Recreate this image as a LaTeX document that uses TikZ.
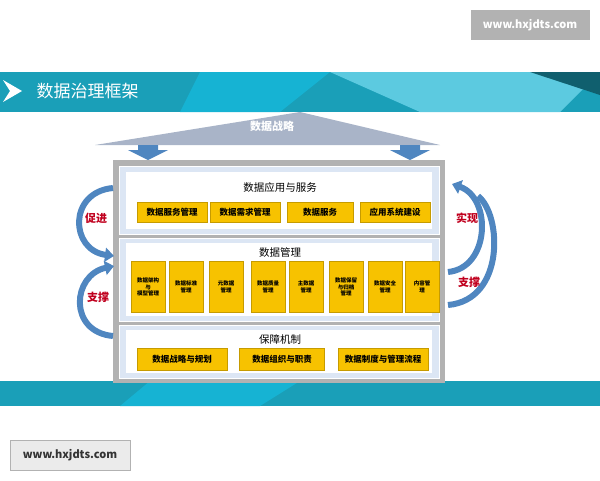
\documentclass[tikz,border=0pt]{standalone}
\usepackage{fontspec}
\setmainfont{Noto Sans CJK SC}
\usetikzlibrary{arrows.meta}
\definecolor{teal1}{HTML}{1A9FB8}
\definecolor{teal2}{HTML}{16B3D3}
\definecolor{roof}{HTML}{A9B4C8}
\definecolor{arrowblue}{HTML}{4F86C0}
\definecolor{panelblue}{HTML}{DCE6F4}
\definecolor{boxyellow}{HTML}{F7C200}
\definecolor{labelred}{HTML}{C0001E}
\begin{document}
\begin{tikzpicture}[x=1pt, y=-1pt, >=Stealth]

    \tikzset{%
    every panel/.style={draw=white, line width=1pt, fill=panelblue},
    inner panel/.style={fill=white},
    ybox/.style={fill=boxyellow, draw=boxyellow!80!black, line width=0.3pt,
        inner sep=1pt, align=center, font=\bfseries\fontsize{5.5}{6.5}\selectfont},
    curve arrow/.style={arrowblue, line width=6pt, -{Triangle[length=9pt,width=14pt]}},
    side label/.style={text=labelred, font=\bfseries\fontsize{11}{12}\selectfont},
    }

    \useasboundingbox (0,0) rectangle (600,480);

    % Watermarks
    \node [fill=black!30, text=white, minimum width=119pt, minimum height=30pt,
        font=\bfseries\fontsize{11}{12}\selectfont] (mark-top) at (530,25) {www.hxjdts.com};
    \node [fill=black!8, draw=black!30, text=black!80, minimum width=120pt,
        minimum height=30pt, font=\bfseries\fontsize{11}{12}\selectfont] (mark-bottom) at (70,455) {www.hxjdts.com};

    % Banners
    \fill [teal1] (0,72) rectangle (600,112);
    \fill [teal2] (200,72) -- (330,72) -- (280,112) -- (180,112) -- cycle;
    \fill [teal2!70!white] (330,72) -- (600,72) -- (560,112) -- (420,112) -- cycle;
    \fill [teal1!60!black] (530,72) -- (600,72) -- (600,95) -- cycle;
    \fill [teal1] (0,381) rectangle (600,406);
    \fill [teal2] (150,381) -- (300,381) -- (260,406) -- (120,406) -- cycle;
    \fill [white] (3,80) -- (22,91) -- (3,102) -- (10,91) -- cycle;
    \node [anchor=west, text=white, font=\fontsize{17}{19}\selectfont] (title) at (33,91) {数据治理框架};

    % Roof
    \fill [roof] (300,112) -- (440,145) -- (95,145) -- cycle;
    \node [text=white, font=\bfseries\fontsize{11}{12}\selectfont] (strategy) at (272,126) {数据战略};
    \foreach \x in {148,410}
    \fill [arrowblue] (\x-10,145) -- (\x+10,145) -- (\x+10,150) -- (\x+20,150)
        -- (\x,160) -- (\x-20,150) -- (\x-10,150) -- cycle;

    % Frame and panels
    \fill [black!30] (113,160) rectangle (445,383);
    \draw [every panel] (119,166) rectangle (439,234);
    \fill [inner panel] (126,172) rectangle (432,229);
    \draw [every panel] (119,238) rectangle (439,321);
    \fill [inner panel] (126,243) rectangle (432,316);
    \draw [every panel] (119,325) rectangle (439,378);
    \fill [inner panel] (126,330) rectangle (432,373);

    \node [font=\fontsize{10.5}{12}\selectfont] (apps) at (280,188) {数据应用与服务};
    \node [font=\fontsize{10.5}{12}\selectfont] (mgmt) at (280,252) {数据管理};
    \node [font=\fontsize{10.5}{12}\selectfont] (guard) at (280,339) {保障机制};

    % Application boxes
    \foreach \x/\w/\l [count=\i] in {172/70/数据服务管理, 245/70/数据需求管理,
        320/66/数据服务, 395/70/应用系统建设}
    \node [ybox, minimum width=\w pt, minimum height=20pt,
        font=\bfseries\fontsize{8.5}{10}\selectfont] (app-\i) at (\x,212) {\l};

    % Management boxes
    \foreach \x/\l [count=\i] in {148/数据架构\\与\\模型管理, 186/数据标准\\管理,
        226/元数据\\管理, 268/数据质量\\管理, 306/主数据\\管理,
        346/数据保留\\与归档\\管理, 385/数据安全\\管理, 422/内容管\\理}
    \node [ybox, minimum width=34pt, minimum height=51pt] (mg-\i) at (\x,287) {\l};

    % Guarantee boxes
    \foreach \x/\w/\l [count=\i] in {182/90/数据战略与规划, 282/85/数据组织与职责,
        383/90/数据制度与管理流程}
    \node [ybox, minimum width=\w pt, minimum height=22pt,
        font=\bfseries\fontsize{8.5}{10}\selectfont] (gd-\i) at (\x,359) {\l};

    % Side arrows
    \coordinate (l-top) at (113,188);
    \coordinate (l-mid) at (114,256);
    \coordinate (l-mid2) at (114,266);
    \coordinate (l-bot) at (113,336);
    \draw [curve arrow] (l-top) .. controls (68,192) and (70,250) .. (l-mid);
    \draw [curve arrow] (l-bot) .. controls (68,332) and (72,275) .. (l-mid2);
    \node [side label] (promote) at (96,218) {促进};
    \node [side label] (support-l) at (98,297) {支撑};

    \coordinate (r-top) at (452,184);
    \coordinate (r-mid) at (448,272);
    \coordinate (r-bot) at (448,305);
    \draw [curve arrow] (r-mid) .. controls (490,268) and (492,198) .. (r-top);
    \draw [arrowblue, line width=6pt] (r-bot) .. controls (505,300) and (502,215) .. (478,196);
    \node [side label] (realize) at (467,218) {实现};
    \node [side label] (support-r) at (469,282) {支撑};

\end{tikzpicture}
\end{document}
